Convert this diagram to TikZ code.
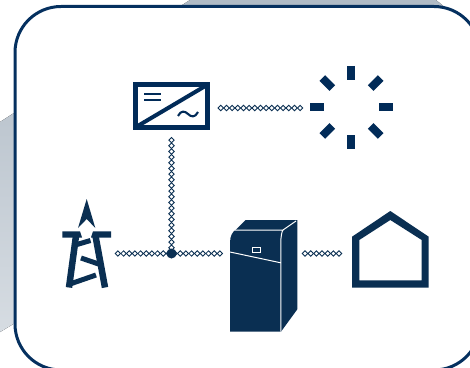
\documentclass[tikz,border=0pt]{standalone}
\usetikzlibrary{decorations.markings}
\definecolor{navy}{HTML}{0A2F52}
\definecolor{deep}{HTML}{012B58}
\definecolor{frameblue}{HTML}{05305F}
\definecolor{backtop}{HTML}{B0BBC6}
\definecolor{backbottom}{HTML}{D6DCE2}
\tikzset{
  px/.style={line width=#1*0.75pt},
  chain/.style={postaction={decorate,decoration={markings,
    mark=between positions 0.001 and 0.999 step 4.25pt with {
      \draw[navy,fill=white,line width=0.65pt] (-2.7,0)--(0,2.7)--(2.7,0)--(0,-2.7)--cycle;}}}},
  solid bar/.style={draw=deep,px=8},
  tower line/.style={draw=navy,px=#1},
  thin white/.style={draw=white,px=1}
}
\begin{document}
\begin{tikzpicture}[x=0.75pt,y=-0.75pt]
\useasboundingbox (0,0) rectangle (470,367);
\clip (0,0) rectangle (470,367);
% backdrop
\fill[top color=backtop,bottom color=backbottom]
  (0,122)--(190,0)--(436,0)--(460,20)--(460,100)--(20,320)--(0,332)--cycle;
\draw[frameblue,px=3,fill=white,rounded corners=34.5pt] (15,6.5) rectangle (480,370);
% inverter
\node[draw=deep,px=5,minimum width=72*0.75pt,minimum height=43*0.75pt,inner sep=0pt] (inverter) at (171.5,106) {};
\draw[deep,px=4] (136,127)--(207,85);
\draw[deep,px=2] (144,94.5)--(161,94.5) (144,100)--(161,100);
\draw[deep,px=2.1] (178,116) .. controls (181,110) and (185,111) .. (188,114) .. controls (191,117) and (195,118) .. (198,112);
% sun
\coordinate (sun) at (351,107);
\draw[solid bar] (351,66)--(351,80) (351,135)--(351,149) (310,107)--(324,107) (379,107)--(393,107);
\draw[solid bar] (322.3,78)--(332.3,88) (380.7,78)--(370.7,88) (322.3,136)--(332.3,126) (380.7,136)--(370.7,126);
% tower
\fill[navy] (86.7,199)--(95.3,228)--(86.7,219)--(78,228)--cycle;
\fill[navy] (62.3,231.3)--(80,231.3)--(82,237.5)--(62.3,237.5)--cycle;
\fill[navy] (111,231.3)--(93,231.3)--(91,237.5)--(111,237.5)--cycle;
\draw[tower line=6.5] (76,236)--(69,287.5) (95.5,236)--(105,287.5);
\draw[tower line=5] (77,244.5)--(90.5,240.5) (81,258)--(100,264.5) (70,284)--(96,275);
% battery cabinet
\fill[navy] (230,331.7)--(230,243) .. controls (230,236) and (232,232) .. (236.7,229)--(245.7,220)--(297.3,220)--(297.3,309.3)--(281,331.7)--cycle;
\draw[thin white] (235,230)--(283,230) (296,221)--(283,230) .. controls (282,231) and (280.8,236) .. (280.8,243) -- (280.8,331.7) (230,252)--(280.3,262.7);
\draw[thin white,fill=navy] (252,247)rectangle(260.5,252);
% house
\fill[navy,even odd rule] (352,236.7)--(390.3,211)--(428.7,236.7)--(428.7,287.7)--(352,287.7)--cycle
  (359.3,240)--(390.3,220)--(421.7,240)--(421.7,280.3)--(359.3,280.3)--cycle;
% connectors
\coordinate (invE) at (220.7,108);
\coordinate (sunW) at (301,108);
\coordinate (invS) at (171.5,140);
\coordinate (junction) at (171.5,253.5);
\coordinate (towerE) at (117.8,253.5);
\coordinate (cabW) at (220.5,253.5);
\coordinate (cabE) at (305,253.5);
\coordinate (houseW) at (340,253.5);
\path[chain] (invE)--(sunW);
\path[chain] (invS)--(junction);
\path[chain] (towerE)--(cabW);
\path[chain] (cabE)--(houseW);
\node[circle,fill=navy,minimum size=7.5pt,inner sep=0pt] (dot) at (junction) {};
\end{tikzpicture}
\end{document}
